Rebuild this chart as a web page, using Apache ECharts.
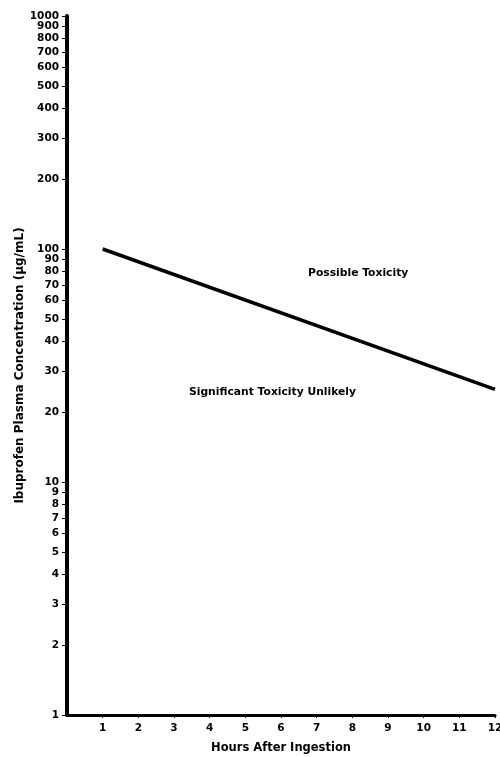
<!DOCTYPE html>
<html>
<head>
<meta charset="utf-8">
<script src="https://cdn.jsdelivr.net/npm/echarts@6/dist/echarts.min.js"></script>
<style>
html, body { margin: 0; padding: 0; background: #fff; }
#container { width: 500px; height: 757px; }
</style>
</head>
<body>
<div id="container"></div>
<script>
// threshold line (hours, ug/mL)
var hours = [1, 12];
var conc = [100, 25];
var xTicks = [1, 2, 3, 4, 5, 6, 7, 8, 9, 10, 11, 12];
var yTicks = [1, 2, 3, 4, 5, 6, 7, 8, 9, 10, 20, 30, 40, 50, 60, 70, 80, 90, 100, 200, 300, 400, 500, 600, 700, 800, 900];
var yTop = [1000];

var font = 'DejaVu Sans';
var dom = document.getElementById('container');
var myChart = echarts.init(dom);

var lineData = hours.map(function (h, i) { return [h, conc[i]]; });

var yLabelStyle = {
    color: '#000', fontFamily: font, fontWeight: 'bold', fontSize: 10.5, margin: 8,
    formatter: function (v) { return String(Math.round(v)); }
};

var option = {
    animation: false,
    grid: { left: 67, right: 5, top: 16, bottom: 42, outerBoundsMode: 'none' },
    xAxis: {
        type: 'value',
        min: 0,
        max: 12,
        axisLine: { show: true, lineStyle: { color: '#000', width: 3 } },
        axisTick: { show: true, customValues: xTicks, length: 3, lineStyle: { color: '#000', width: 1 } },
        axisLabel: { customValues: xTicks, color: '#000', fontFamily: font, fontWeight: 'bold', fontSize: 10.5, margin: 8, showMaxLabel: true },
        splitLine: { show: false },
        name: 'Hours After Ingestion',
        nameLocation: 'middle',
        nameGap: 27,
        nameTextStyle: { color: '#000', fontFamily: font, fontWeight: 'bold', fontSize: 11.5 }
    },
    yAxis: [
        {
            type: 'log',
            logBase: 10,
            min: 1,
            // tiny pad so the 1000 tick survives float rounding
            max: 1000.001,
            axisLine: { show: true, lineStyle: { color: '#000', width: 4 } },
            axisTick: { show: true, customValues: yTicks, length: 5, lineStyle: { color: '#000', width: 1 } },
            axisLabel: echarts.util.extend({ customValues: yTicks, showMinLabel: true }, yLabelStyle),
            splitLine: { show: false },
            name: 'Ibuprofen Plasma Concentration (\u00b5g/mL)',
            nameLocation: 'middle',
            nameGap: 33,
            nameTextStyle: { color: '#000', fontFamily: font, fontWeight: 'bold', fontSize: 12 }
        },
        {
            // second copy of the same scale, only for the 1000 label (avoids overlap hiding 900)
            type: 'log',
            logBase: 10,
            min: 1,
            max: 1000.001,
            position: 'left',
            axisLine: { show: false },
            axisTick: { show: true, customValues: yTop, length: 5, lineStyle: { color: '#000', width: 1 } },
            axisLabel: echarts.util.extend({ customValues: yTop, showMaxLabel: true }, yLabelStyle),
            splitLine: { show: false }
        }
    ],
    graphic: [
        { type: 'text', left: 308, top: 268, style: { text: 'Possible Toxicity', fill: '#000', font: 'bold 10.75px "DejaVu Sans"' } },
        { type: 'text', left: 189, top: 387, style: { text: 'Significant Toxicity Unlikely', fill: '#000', font: 'bold 10.75px "DejaVu Sans"' } }
    ],
    series: [
        {
            type: 'line',
            yAxisIndex: 0,
            data: lineData,
            symbol: 'none',
            lineStyle: { color: '#000', width: 3.5 }
        }
    ]
};

myChart.setOption(option);
</script>
</body>
</html>
